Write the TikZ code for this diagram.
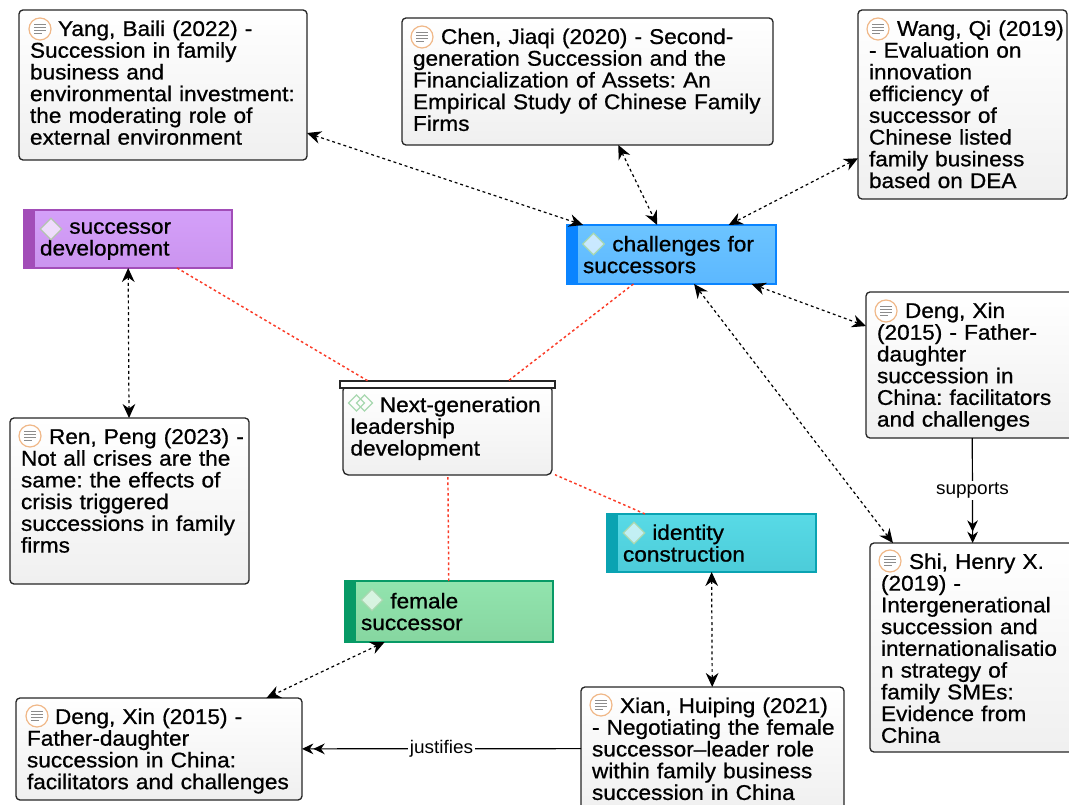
\documentclass[tikz,border=0pt]{standalone}
\usepackage{fontspec}
\setmainfont[FakeStretch=1.06,FakeBold=0.8]{Liberation Sans}
\newfontfamily\labelfont[FakeStretch=1.04]{Liberation Sans}
\usetikzlibrary{arrows.meta, calc, fit, shapes.geometric}
\definecolor{purpletop}{HTML}{D4A0F9}
\definecolor{purplelow}{HTML}{CB94EF}
\definecolor{purplebar}{HTML}{A24DB8}
\definecolor{bluetop}{HTML}{6CC4FF}
\definecolor{bluelow}{HTML}{5CB8FF}
\definecolor{bluebar}{HTML}{0A84FF}
\definecolor{tealtop}{HTML}{58DAE6}
\definecolor{teallow}{HTML}{4CCCD9}
\definecolor{tealbar}{HTML}{0AA3B2}
\definecolor{greentop}{HTML}{92E4AE}
\definecolor{greenlow}{HTML}{86D6A0}
\definecolor{greenbar}{HTML}{079A66}
\definecolor{linkred}{HTML}{FA3C28}
\definecolor{noteorange}{HTML}{F0B888}
\definecolor{markgreen}{HTML}{A8D8B0}
\definecolor{markgrey}{HTML}{B4C4B0}
\newcommand{\cardhead}[1]{\mbox{\rule{0pt}{14.7pt}\hspace*{21pt}#1}}
\newcommand{\topichead}[1]{\mbox{\rule{0pt}{11.7pt}\hspace*{22pt}#1}}
\newcommand{\cardpad}[1]{\rule[-#1]{0pt}{0pt}}
\tikzset{
  boxsize/.code 2 args={\pgfmathsetlengthmacro\boxw{#1*0.75pt}%
    \pgfmathsetlengthmacro\boxh{#2*0.75pt}%
    \tikzset{minimum width=\boxw, minimum height=\boxh}},
  boxtext/.code 2 args={\pgfmathsetlengthmacro\boxt{(#1-2*#2)*0.75pt}%
    \pgfmathsetlengthmacro\boxs{#2*0.75pt}%
    \tikzset{text width=\boxt, inner xsep=\boxs}},
  basetext/.style = {align=left, inner ysep=0pt, outer sep=0pt,
    font=\fontsize{16}{16.3}\selectfont\frenchspacing},
  refbox/.style 2 args = {basetext, rectangle, draw=black!85, line width=1pt,
    rounded corners=3pt, top color=white, bottom color=black!6,
    boxsize={#1}{#2}, boxtext={#1}{11}},% source card
  topicbox/.style n args = {5}{basetext, rectangle, draw=#5, line width=0.8pt,
    top color=#3, bottom color=#4, boxsize={#1}{#2}, boxtext={#1}{16},
    path picture={\fill[#5] (path picture bounding box.north west)
      rectangle ($(path picture bounding box.south west)+(11,0)$);}},% coloured topic
  topicmark/.style = {diamond, draw=#1, fill=white, fill opacity=0.65, line width=0.9pt,
    minimum width=16.5pt, minimum height=16.5pt, inner sep=0pt},
  themark/.style = {diamond, draw=markgreen, line width=0.9pt,
    minimum width=12.4pt, minimum height=12.4pt, inner sep=0pt},
  note/.pic = {
    \draw[draw=noteorange, fill=white, line width=0.9pt] (0,0) circle (11);
    \draw[black!45, line width=0.7pt] (-6,-5) -- (6,-5) (-6,-2) -- (6,-2)
      (-6,1) -- (6,1) (-6,4) -- (2,4);
  },
  link/.style = {black, line width=0.9pt, dash pattern=on 2.2pt off 2.2pt,
    {Stealth[length=10.5pt,width=9.5pt]}-{Stealth[length=10.5pt,width=9.5pt]}},
  tie/.style = {linkred, line width=1.1pt, dash pattern=on 2pt off 2pt},
  named/.style = {black, line width=0.9pt,
    -{Stealth[length=8.5pt,width=8pt]Stealth[length=8.5pt,width=8pt]}},
  namedtext/.style = {fill=white, inner sep=1.5pt, font=\labelfont\fontsize{13.7}{15}\selectfont}
}
\begin{document}
\begin{tikzpicture}[x=0.75pt,y=-0.75pt]
\clip (0,0) rectangle (1069,805);
% source cards
\node [refbox={288}{150}] (yang) at (163,85)
  {\cardhead{Yang, Baili (2022) -}\\Succession in family\\business and\\environmental investment:\\the moderating role of\\external environment\cardpad{6.75pt}};
\node [refbox={371}{127}] (chen) at (587.5,81.5)
  {\cardhead{Chen, Jiaqi (2020) - Second-}\\generation Succession and the\\Financialization of Assets: An\\Empirical Study of Chinese Family\\Firms\cardpad{5.8pt}};
\node [refbox={209}{189}] (wang) at (962.5,104.5)
  {\cardhead{Wang, Qi (2019)}\\- Evaluation on\\innovation\\efficiency of\\successor of\\Chinese listed\\family business\\based on DEA\cardpad{3.5pt}};
\node [refbox={212}{146}] (dengright) at (972,365)
  {\cardhead{Deng, Xin}\\(2015) - Father-\\daughter\\succession in\\China: facilitators\\and challenges\cardpad{3.75pt}};
\node [refbox={239}{166}] (ren) at (129.5,501)
  {\cardhead{Ren, Peng (2023) -}\\Not all crises are the\\same: the effects of\\crisis triggered\\successions in family\\firms\cardpad{18.8pt}};
\node [refbox={206}{209}] (shi) at (973,647.5)
  {\cardhead{Shi, Henry X.}\\(2019) -\\Intergenerational\\succession and\\internationalisatio\\n strategy of\\family SMEs:\\Evidence from\\China\cardpad{2.2pt}};
\node [refbox={286}{102}] (dengleft) at (159,749)
  {\cardhead{Deng, Xin (2015) -}\\Father-daughter\\succession in China:\\facilitators and challenges\cardpad{3.4pt}};
\node [refbox={263}{123}] (xian) at (712.5,748.5)
  {\cardhead{Xian, Huiping (2021)}\\\mbox{- Negotiating the female}\\successor--leader role\\within family business\\succession in China\cardpad{2.8pt}};
% topics
\node [topicbox={208}{58}{purpletop}{purplelow}{purplebar}] (development) at (128,239)
  {\topichead{successor}\\development};
\node [topicbox={209}{59}{bluetop}{bluelow}{bluebar}] (challenges) at (671.5,254.5)
  {\topichead{challenges for}\\successors};
\node [topicbox={209}{58}{tealtop}{teallow}{tealbar}] (identity) at (711.5,543)
  {\topichead{identity}\\construction};
\node [topicbox={208}{61}{greentop}{greenlow}{greenbar}] (female) at (449,611.5)
  {\topichead{female}\\successor};
% theme with its lid
\node [refbox={209}{90}, boxtext={209}{7.5}, rounded corners=4pt] (nextbody) at (447.5,430)
  {\topichead{Next-generation}\\leadership\\development\cardpad{6pt}};
\node [draw=black!85, fill=white, line width=1pt, outer sep=0pt, inner sep=0pt,
  boxsize={215}{7}] (nextbar) at (447.5,384.5) {};
\node [fit=(nextbody)(nextbar), inner sep=0pt, outer sep=0pt] (nextgen) {};
% marks
\pic at ($(yang.north west)+(21,19)$) {note};
\pic at ($(chen.north west)+(20,19)$) {note};
\pic at ($(wang.north west)+(20,19)$) {note};
\pic at ($(dengright.north west)+(20,19)$) {note};
\pic at ($(ren.north west)+(20,18)$) {note};
\pic at ($(shi.north west)+(20,18)$) {note};
\pic at ($(dengleft.north west)+(21,18)$) {note};
\pic at ($(xian.north west)+(20,18)$) {note};
\node [topicmark=markgrey] (markdev) at ($(development.north west)+(27,19)$) {};
\node [topicmark=markgreen] (markcha) at ($(challenges.north west)+(26.5,19)$) {};
\node [topicmark=markgreen] (markide) at ($(identity.north west)+(27,19)$) {};
\node [topicmark=markgreen] (markfem) at ($(female.north west)+(27,19)$) {};
\node [themark] (marknexta) at ($(nextbody.north west)+(13.5,18)$) {};
\node [themark] (marknextb) at ($(nextbody.north west)+(21.5,18)$) {};
% connectors
\draw [tie] (development) -- (nextgen);
\draw [tie] (challenges) -- (nextgen);
\draw [tie] (female) -- (nextgen);
\draw [tie] (identity) -- (nextgen);
\draw [link] (yang) -- (challenges);
\draw [link] (chen) -- (challenges);
\draw [link] (wang) -- (challenges);
\draw [link] (dengright) -- (challenges);
\draw [link] (shi) -- (challenges);
\draw [link] (development) -- (ren);
\draw [link] (female) -- (dengleft);
\draw [link] (identity) -- (xian);
\draw [named] (dengright) -- node [namedtext] {supports} (shi);
\draw [named] (xian) -- node [namedtext] {justifies} (dengleft);
\end{tikzpicture}
\end{document}
